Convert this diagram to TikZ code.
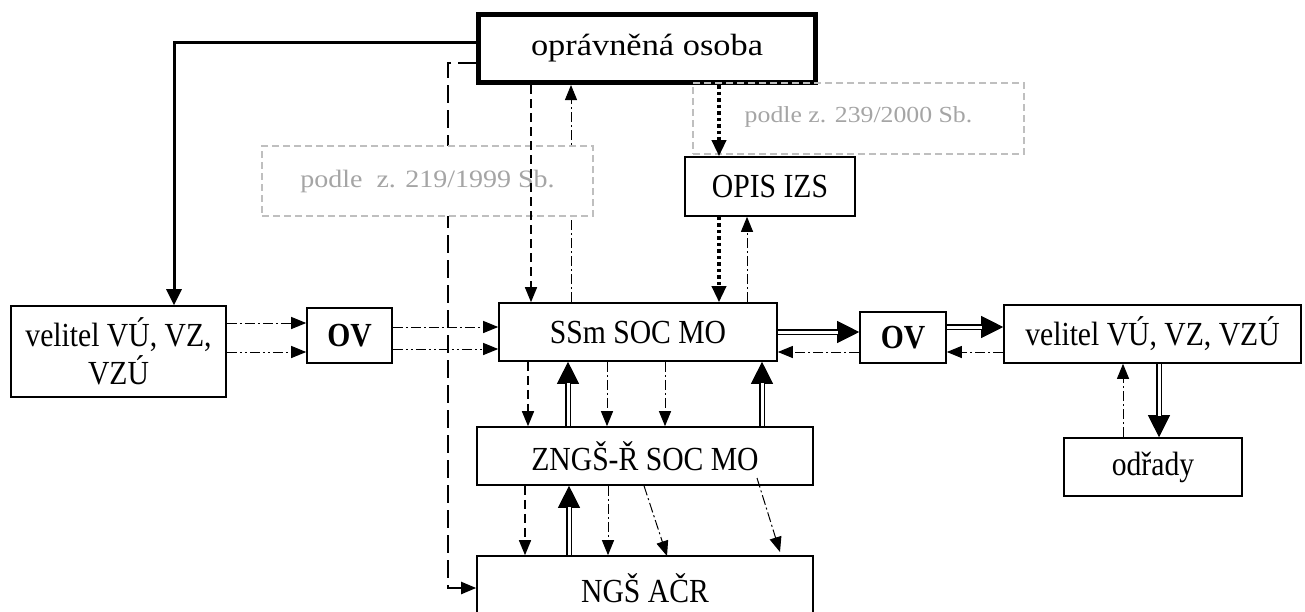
\documentclass[tikz,border=0pt]{standalone}
\usepackage{fontspec}
\setmainfont[FakeStretch=1.12]{Liberation Serif}
\newfontfamily\narrowfont[FakeStretch=0.88]{Liberation Serif}
\usetikzlibrary{arrows.meta}
\definecolor{grayline}{HTML}{BFBFBF}
\definecolor{graytext}{HTML}{A5A5A5}
\tikzset{
 mybox/.style={draw, line width=1.6pt, rectangle, inner sep=0pt, align=center, font=\narrowfont\fontsize{33.7}{38}\selectfont},
 graybox/.style={draw=grayline, dash pattern=on 7pt off 4pt, line width=1.4pt, fill=white, text=graytext, inner sep=0pt},
 arrtip/.style={-{Triangle[length=15pt,width=12pt]}},
 dd/.style={arrtip, line width=1.5pt, dash pattern=on 9pt off 5pt},
 ldash/.style={arrtip, line width=2pt, dash pattern=on 18pt off 7pt},
 dchain/.style={arrtip, line width=1pt, dash pattern=on 10pt off 3pt on 2pt off 3pt},
 dchaintwo/.style={arrtip, line width=1pt, dash pattern=on 10pt off 3pt on 2pt off 3pt on 2pt off 3pt},
 dotline/.style={line width=3.5pt, dash pattern=on 3.5pt off 3pt, -{Triangle[length=16pt,width=14pt]}},
 thickarr/.style={line width=3pt, -{Triangle[length=16pt,width=15pt]}},
 dbltipline/.style={line width=0.8pt, -{Triangle[length=22pt,width=22pt]}},
 dblshaft/.style={double, double distance=3pt, line width=1.8pt, shorten >=21.5pt}
}
\newcommand\dblarrow[2]{\draw[dbltipline] (#1) -- (#2); \draw[dblshaft] (#1) -- (#2);}
\begin{document}
\begin{tikzpicture}[x=1pt,y=-1pt]
\useasboundingbox (0,0) rectangle (1305,611);
% nodes
\node[mybox, line width=5pt, minimum width=337pt, minimum height=68pt, font=\rmfamily\fontsize{30.7}{36}\selectfont] (opr) at (647,48.5) {oprávněná osoba};
\node[mybox, minimum width=215pt, minimum height=91pt] (velL) at (118.5,351.5) {velitel VÚ, VZ,\\VZÚ};
\node[mybox, minimum width=85pt, minimum height=55pt, font=\narrowfont\fontsize{33.7}{38}\selectfont\bfseries] (ovL) at (349.5,335.5) {OV};
\node[mybox, minimum width=278pt, minimum height=58pt] (ssm) at (638,332) {SSm SOC MO};
\node[mybox, minimum width=336pt, minimum height=58pt] (zng) at (645,456) {ZNGŠ-Ř SOC MO};
\node[mybox, minimum width=336pt, minimum height=64pt] (ngs) at (645,588) {NGŠ AČR};
\node[mybox, minimum width=170pt, minimum height=59pt] (opis) at (770,186.5) {OPIS IZS};
\node[mybox, minimum width=86pt, minimum height=51pt, font=\narrowfont\fontsize{33.7}{38}\selectfont\bfseries] (ovR) at (903,337.5) {OV};
\node[mybox, minimum width=297pt, minimum height=58pt] (velR) at (1152.5,334) {velitel VÚ, VZ, VZÚ};
\node[mybox, minimum width=178pt, minimum height=58pt] (odr) at (1153,467) {odřady};
% helper coordinates
\coordinate (x174) at (174,0);
\coordinate (x448) at (448,300);
\coordinate (x525) at (525,0);
\coordinate (x528) at (528,0);
\coordinate (x531) at (531,0);
\coordinate (x568) at (568,0);
\coordinate (x569) at (569,0);
\coordinate (x571) at (571,0);
\coordinate (x607) at (607,0);
\coordinate (x608) at (608,0);
\coordinate (x644) at (644,0);
\coordinate (x665) at (665,0);
\coordinate (x719) at (719,0);
\coordinate (x747) at (747,0);
\coordinate (x762) at (762,0);
\coordinate (x1123) at (1123,0);
\coordinate (x1159) at (1159,0);
\coordinate (y323) at (0,323);
\coordinate (y327) at (0,327);
\coordinate (y349) at (0,349);
\coordinate (y352) at (0,352);
\coordinate (d1e) at (667,556);
\coordinate (d2s) at (757,478);
\coordinate (d2e) at (780,552);
% top connectors
\draw[thickarr] ([yshift=6.5pt]opr.west) -| (velL.north -| x174);
\draw[ldash] ([yshift=-14.5pt]opr.west) -| (x448) |- (ngs.west);
\draw[dchain] (ssm.north -| x571) -- (opr.south -| x571);
\node[graybox, minimum width=331pt, minimum height=70pt, font=\rmfamily\fontsize{25}{30}\selectfont] (g1) at (427.5,181) {\raisebox{5pt}{podle~ z. 219/1999 Sb.}};
\draw[dd] (opr.south -| x531) -- (ssm.north -| x531);
\node[graybox, fill=none, minimum width=331pt, minimum height=71pt, font=\rmfamily\fontsize{23}{28}\selectfont] (g2) at (858.5,118.5) {\raisebox{8pt}{podle z. 239/2000 Sb.}};
\draw[dotline] (opr.south -| x719) -- (opis.north -| x719);
\draw[dotline] (opis.south -| x719) -- (ssm.north -| x719);
\draw[dchain] (ssm.north -| x747) -- (opis.south -| x747);
% left
\draw[dchain] (velL.east |- y323) -- (ovL.west |- y323);
\draw[dchaintwo] (velL.east |- y352) -- (ovL.west |- y352);
\draw[dchain] (ovL.east |- y327) -- (ssm.west |- y327);
\draw[dchaintwo] (ovL.east |- y349) -- (ssm.west |- y349);
% right
\dblarrow{ssm.east}{ssm.east -| ovR.west}
\draw[dchain] (ovR.west |- y352) -- (ssm.east |- y352);
\dblarrow{ovR.east |- y327}{velR.west |- y327}
\draw[dchain] (velR.west |- y352) -- (ovR.east |- y352);
\dblarrow{velR.south -| x1159}{odr.north -| x1159}
\draw[dchain] (odr.north -| x1123) -- (velR.south -| x1123);
% middle
\draw[dd] (ssm.south -| x528) -- (zng.north -| x528);
\dblarrow{zng.north -| x568}{ssm.south -| x568}
\draw[dchain] (ssm.south -| x607) -- (zng.north -| x607);
\draw[dchain] (ssm.south -| x665) -- (zng.north -| x665);
\dblarrow{zng.north -| x762}{ssm.south -| x762}
\draw[dd] (zng.south -| x525) -- (ngs.north -| x525);
\dblarrow{ngs.north -| x569}{zng.south -| x569}
\draw[dchain] (zng.south -| x608) -- (ngs.north -| x608);
\draw[dchain] (zng.south -| x644) -- (d1e);
\draw[dchain] (d2s) -- (d2e);
\end{tikzpicture}
\end{document}
